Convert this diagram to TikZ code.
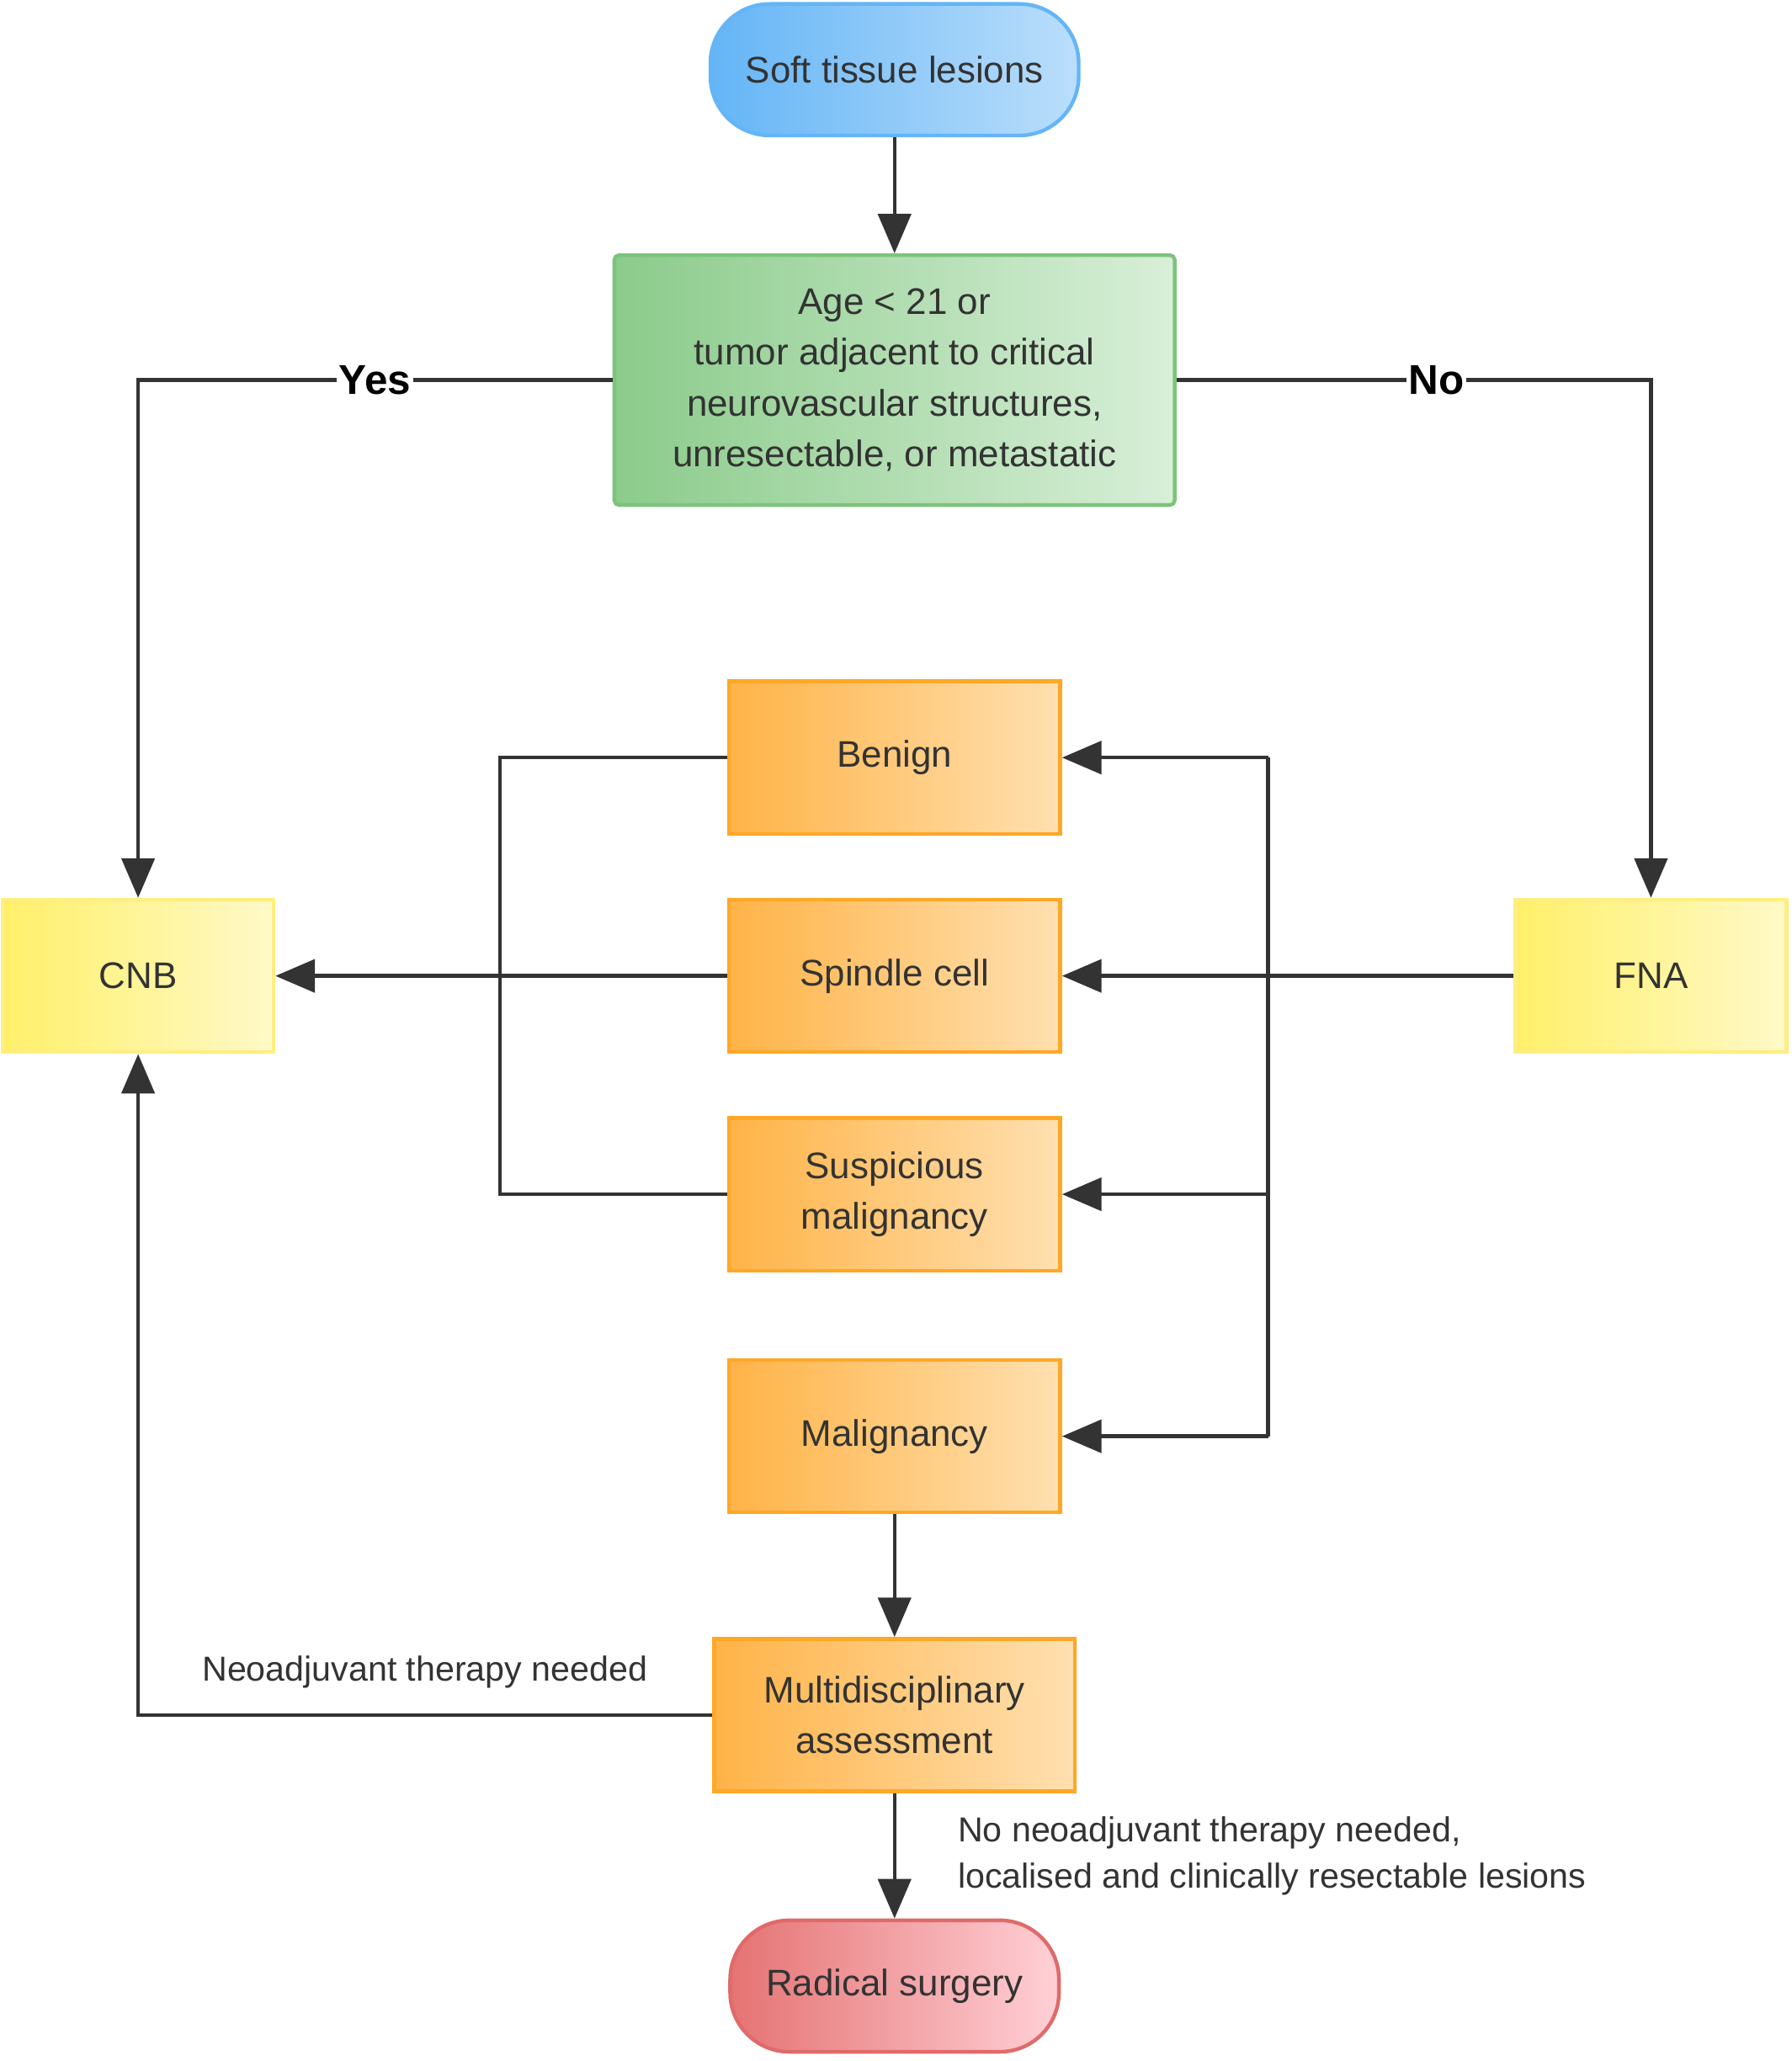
\documentclass[tikz,border=0pt]{standalone}
\usepackage{fontspec}
\setmainfont{Liberation Sans}
\usetikzlibrary{arrows.meta}
\definecolor{bluel}{HTML}{64B5F6}\definecolor{bluer}{HTML}{BBDEFB}
\definecolor{greenl}{HTML}{8BCB8B}\definecolor{greenr}{HTML}{D8EFD8}\definecolor{greenb}{HTML}{7CC47C}
\definecolor{yell}{HTML}{FFF06A}\definecolor{yelr}{HTML}{FFF9C8}\definecolor{yelb}{HTML}{FFEE80}
\definecolor{orl}{HTML}{FFB347}\definecolor{orr}{HTML}{FFE0B0}\definecolor{orb}{HTML}{FFA726}
\definecolor{redl}{HTML}{E57373}\definecolor{redr}{HTML}{FFD0D6}\definecolor{redb}{HTML}{E06A6A}
\definecolor{linec}{HTML}{333333}
\tikzset{
  box/.style={draw, line width=1.6pt, align=center, font=\fontsize{16}{22}\selectfont, text=linec, inner sep=0pt},
  term/.style={box, rounded corners=0.9cm, minimum width=5.6cm, minimum height=2cm},
  orange box/.style={box, draw=orb, left color=orl, right color=orr, minimum width=5.04cm, minimum height=2.32cm},
  yellow box/.style={box, draw=yelb, left color=yell, right color=yelr, minimum width=4.12cm, minimum height=2.32cm},
  link/.style={draw=linec, line width=1.6pt},
  arrow/.style={link, -{Triangle[length=0.6cm,width=0.5cm]}},
  answer/.style={font=\bfseries\fontsize{18}{22}\selectfont, fill=white, inner sep=1pt, text=black},
  note/.style={font=\fontsize{15}{20}\selectfont, text=linec, align=left}
}
\begin{document}
\begin{tikzpicture}[x=0.02cm,y=-0.02cm]
\useasboundingbox (0,0) rectangle (1362,1567);

\node[term, draw=bluel, left color=bluel, right color=bluer] (soft) at (680,53) {Soft tissue lesions};
\node[box, draw=greenb, left color=greenl, right color=greenr, rounded corners=2pt,
  minimum width=8.52cm, minimum height=3.8cm] (age) at (680,289)
  {Age < 21 or\\tumor adjacent to critical\\neurovascular structures,\\unresectable, or metastatic};
\node[yellow box] (cnb) at (105,742) {CNB};
\node[yellow box] (fna) at (1255,742) {FNA};
\node[orange box] (benign) at (680,576) {Benign};
\node[orange box] (spindle) at (680,742) {Spindle cell};
\node[orange box] (susp) at (680,908) {Suspicious\\malignancy};
\node[orange box] (malig) at (680,1092) {Malignancy};
\node[orange box, minimum width=5.48cm] (multi) at (680,1304) {Multidisciplinary\\assessment};
\node[term, draw=redb, left color=redl, right color=redr, minimum width=5cm] (surg) at (680,1510) {Radical surgery};

\coordinate (yes) at (105,289);
\coordinate (no) at (1255,289);
\coordinate (lt) at (380,576);
\coordinate (lb) at (380,908);
\coordinate (rt) at (964,576);
\coordinate (rb) at (964,1092);
\coordinate (neo) at (105,1304);

\draw[arrow] (soft) -- (age);
\draw[arrow] (age.west) -- (yes) -- (cnb.north);
\draw[arrow] (age.east) -- (no) -- (fna.north);
\node[answer] at (285,289) {Yes};
\node[answer] at (1092,289) {No};

\draw[link] (benign.west) -- (lt) -- (lb) -- (susp.west);
\draw[arrow] (spindle.west) -- (cnb.east);

\draw[arrow] (fna.west) -- (spindle.east);
\draw[link] (rt) -- (rb);
\draw[arrow] (rt) -- (benign.east);
\draw[arrow] (964,908) -- (susp.east);
\draw[arrow] (rb) -- (malig.east);

\draw[arrow] (malig) -- (multi);
\draw[arrow] (multi.west) -- (neo) -- (cnb.south);
\node[note, anchor=south] at (323,1290) {Neoadjuvant therapy needed};
\draw[arrow] (multi) -- (surg);
\node[note, anchor=west] at (722,1411) {No neoadjuvant therapy needed,\\localised and clinically resectable lesions};
\end{tikzpicture}
\end{document}
